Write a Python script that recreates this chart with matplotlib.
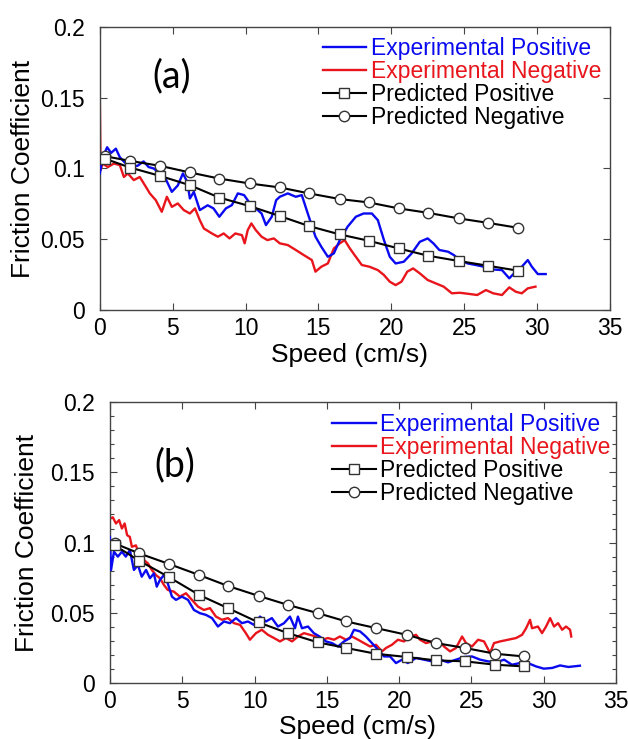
import matplotlib
matplotlib.use("Agg")
from matplotlib import pyplot as plt
from matplotlib.ticker import MultipleLocator

plt.rcParams['font.family'] = ['Liberation Sans', 'DejaVu Sans']

# ---- panel (a) ----
a_exp_pos_x = [0, 0.2, 0.5, 0.77, 1.1, 1.37, 1.78, 2.2, 2.6, 3.0, 3.35, 3.7, 4.1, 4.5, 4.94, 5.35,
               5.7, 6.0, 6.18, 6.45, 6.86, 7.4, 7.8, 8.2, 8.65, 9.06, 9.47, 9.9, 10.3, 10.7, 11.1,
               11.4, 11.8, 12.1, 12.35, 12.9, 13.45, 13.86, 14.27, 14.8, 15.2, 15.65, 16.06, 16.47,
               17.0, 17.57, 18.1, 18.67, 19.08, 19.5, 19.9, 20.3, 20.86, 21.4, 21.96, 22.5, 22.9,
               23.3, 23.9, 24.3, 24.7, 25.25, 25.8, 26.35, 26.9, 27.6, 28.1, 28.55, 28.96, 29.37,
               29.65, 30.06, 30.6]
a_exp_pos_y = [0.0965, 0.108, 0.115, 0.111, 0.114, 0.108, 0.1035, 0.101, 0.102, 0.105, 0.101, 0.100,
               0.0965, 0.093, 0.0835, 0.088, 0.0965, 0.0905, 0.0788, 0.0835, 0.0706, 0.074, 0.0718,
               0.0659, 0.0718, 0.0741, 0.0824, 0.0812, 0.0753, 0.0718, 0.0682, 0.060, 0.0659, 0.0776,
               0.080, 0.0824, 0.080, 0.0812, 0.0682, 0.0518, 0.0447, 0.0376, 0.040, 0.0494, 0.0588,
               0.0659, 0.0682, 0.0682, 0.0635, 0.0494, 0.0376, 0.0329, 0.0341, 0.040, 0.0482, 0.0506,
               0.047, 0.0424, 0.0412, 0.0388, 0.0353, 0.0329, 0.0318, 0.0306, 0.0287, 0.0282, 0.0224,
               0.0271, 0.0306, 0.0353, 0.0306, 0.0254, 0.0254]

a_exp_neg_x = [0, 0.05, 0.2, 0.55, 0.96, 1.37, 1.65, 1.92, 2.33, 2.74, 3.16, 3.43, 3.84, 4.25, 4.6,
               4.94, 5.35, 5.76, 6.18, 6.53, 6.86, 7.14, 7.69, 8.1, 8.5, 8.9, 9.3, 9.75, 9.94, 10.15,
               10.4, 10.7, 11.1, 11.5, 11.94, 12.35, 12.9, 13.45, 14.0, 14.55, 14.8, 15.2, 15.65,
               16.06, 16.47, 16.8, 17.16, 17.57, 17.98, 18.5, 19.08, 19.5, 19.9, 20.3, 20.7, 21.1,
               21.5, 21.96, 22.5, 23.06, 23.6, 24.16, 24.7, 25.4, 25.9, 26.5, 27.0, 27.6, 28.1,
               28.55, 28.96, 29.37, 29.9]
a_exp_neg_y = [0.148, 0.099, 0.1035, 0.101, 0.1035, 0.1024, 0.094, 0.0965, 0.0918, 0.094, 0.087,
               0.0824, 0.0776, 0.0694, 0.080, 0.0729, 0.0753, 0.0706, 0.0682, 0.0718, 0.0635, 0.0576,
               0.0541, 0.0518, 0.0541, 0.0506, 0.0541, 0.0529, 0.0471, 0.0565, 0.0612, 0.0565, 0.0518,
               0.0494, 0.0506, 0.0471, 0.0459, 0.0424, 0.0388, 0.0353, 0.0271, 0.0306, 0.0329, 0.0435,
               0.0471, 0.0494, 0.0435, 0.0376, 0.0318, 0.0306, 0.0282, 0.0247, 0.020, 0.0176, 0.020,
               0.0271, 0.0294, 0.0259, 0.0212, 0.0188, 0.0165, 0.0118, 0.0122, 0.0113, 0.0106, 0.0141,
               0.0118, 0.0106, 0.016, 0.0129, 0.0118, 0.0153, 0.0165]

a_pred_x = [0.33, 2.06, 4.12, 6.18, 8.18, 10.29, 12.35, 14.36, 16.47, 18.47, 20.51, 22.51, 24.65,
            26.63, 28.69]
a_pred_pos_y = [0.107, 0.1007, 0.0948, 0.0882, 0.0795, 0.0734, 0.0664, 0.0593, 0.0534, 0.0489,
                0.0435, 0.0384, 0.0346, 0.0313, 0.0278]
a_pred_neg_y = [0.1087, 0.1054, 0.1019, 0.0972, 0.0929, 0.0894, 0.0866, 0.0824, 0.0784, 0.0760,
                0.0718, 0.0687, 0.0647, 0.0616, 0.0581]

# ---- panel (b) ----
b_exp_pos_x = [0, 0.08, 0.28, 0.55, 0.83, 1.1, 1.38, 1.66, 1.94, 2.2, 2.5, 2.77, 3.04, 3.24, 3.46,
               3.74, 4.0, 4.29, 4.57, 4.98, 5.4, 5.81, 6.23, 6.64, 7.06, 7.47, 7.89, 8.3, 8.72, 9.13,
               9.55, 9.96, 10.38, 10.79, 11.2, 11.62, 12.04, 12.45, 12.8, 13.0, 13.28, 13.7, 14.1,
               14.5, 14.94, 15.36, 15.77, 16.19, 16.6, 16.88, 17.3, 17.7, 18.12, 18.54, 18.95, 19.37,
               19.78, 20.2, 20.6, 21.17, 21.72, 22.27, 22.83, 23.38, 23.93, 24.49, 25.04, 25.6, 26.15,
               26.7, 27.26, 27.8, 28.36, 28.9, 29.47, 30.0, 30.58, 31.13, 31.7, 32.5]
b_exp_pos_y = [0.104, 0.0805, 0.0935, 0.090, 0.0935, 0.090, 0.0947, 0.0805, 0.084, 0.0757, 0.0805,
               0.0746, 0.078, 0.0686, 0.0734, 0.0769, 0.071, 0.0615, 0.0592, 0.0615, 0.0592, 0.052,
               0.0497, 0.0485, 0.0462, 0.0402, 0.0438, 0.0426, 0.0462, 0.0426, 0.0438, 0.0414, 0.0473,
               0.0438, 0.0462, 0.0402, 0.0426, 0.0473, 0.039, 0.0473, 0.039, 0.0402, 0.0355, 0.0331,
               0.0296, 0.0284, 0.026, 0.0296, 0.032, 0.0379, 0.0367, 0.0331, 0.0284, 0.0237, 0.0189,
               0.0189, 0.0142, 0.0166, 0.0142, 0.0178, 0.0166, 0.0154, 0.0166, 0.0147, 0.0166, 0.0185,
               0.0189, 0.0166, 0.0154, 0.0147, 0.0166, 0.013, 0.0142, 0.0142, 0.0118, 0.0102, 0.0107,
               0.0125, 0.0114, 0.0123]

b_exp_neg_x = [0, 0.2, 0.42, 0.64, 0.83, 1.02, 1.19, 1.38, 1.52, 1.8, 2.07, 2.35, 2.63, 2.9, 3.18,
               3.46, 3.74, 4.0, 4.43, 4.84, 5.26, 5.67, 6.09, 6.5, 6.92, 7.33, 7.75, 8.16, 8.58, 9.0,
               9.4, 9.68, 10.1, 10.5, 10.93, 11.35, 11.76, 12.17, 12.6, 13.0, 13.42, 13.83, 14.25,
               14.67, 15.08, 15.5, 15.9, 16.33, 16.74, 17.16, 17.57, 17.99, 18.4, 18.82, 19.09, 19.5,
               19.92, 20.34, 20.75, 21.17, 21.44, 21.86, 22.27, 22.7, 23.1, 23.52, 23.93, 24.35,
               24.63, 25.04, 25.46, 25.87, 26.29, 26.56, 26.98, 27.53, 28.08, 28.5, 28.78, 29.05,
               29.19, 29.6, 29.88, 30.16, 30.44, 30.71, 30.99, 31.27, 31.54, 31.82, 31.9]
b_exp_neg_y = [0.117, 0.118, 0.1136, 0.116, 0.110, 0.1136, 0.1053, 0.104, 0.097, 0.098, 0.090,
               0.0876, 0.0852, 0.0805, 0.0769, 0.0746, 0.0698, 0.0663, 0.065, 0.0615, 0.0639, 0.0592,
               0.0544, 0.052, 0.0533, 0.0473, 0.045, 0.0462, 0.0426, 0.0414, 0.0355, 0.0308, 0.0355,
               0.0379, 0.0343, 0.032, 0.0296, 0.032, 0.0296, 0.0331, 0.0355, 0.0343, 0.0331, 0.0308,
               0.032, 0.0308, 0.0331, 0.0308, 0.0331, 0.0308, 0.0284, 0.026, 0.0272, 0.0225, 0.0249,
               0.0272, 0.0308, 0.0296, 0.0331, 0.0343, 0.0308, 0.0284, 0.0296, 0.0308, 0.026, 0.0225,
               0.0249, 0.0331, 0.0284, 0.026, 0.0308, 0.0296, 0.0213, 0.0284, 0.0296, 0.0308, 0.032,
               0.0343, 0.039, 0.045, 0.039, 0.0402, 0.0355, 0.0402, 0.0462, 0.0402, 0.0426, 0.0379,
               0.0402, 0.0379, 0.0331]

b_pred_x = [0.33, 2.02, 4.1, 6.17, 8.16, 10.29, 12.31, 14.39, 16.35, 18.4, 20.53, 22.55, 24.57,
            26.65, 28.64]
b_pred_pos_y = [0.098, 0.0871, 0.0753, 0.0627, 0.0533, 0.0431, 0.0355, 0.0289, 0.0249, 0.0208,
                0.0185, 0.0161, 0.0154, 0.013, 0.0118]
b_pred_neg_y = [0.0994, 0.0923, 0.0847, 0.0769, 0.0691, 0.062, 0.0556, 0.0497, 0.0438, 0.0391,
                0.0343, 0.0284, 0.0249, 0.0208, 0.0189]

labels = ["Experimental Positive", "Experimental Negative", "Predicted Positive", "Predicted Negative"]

fig = plt.figure(figsize=(6.28, 7.39), dpi=100)

panels = [
    ("(a)", [0.159, 0.5805, 0.812, 0.383], a_exp_pos_x, a_exp_pos_y, a_exp_neg_x, a_exp_neg_y,
     a_pred_x, a_pred_pos_y, a_pred_neg_y, (4.95, 0.165), -0.128, -0.117, 0.437, 0.963, False),
    ("(b)", [0.175, 0.0758, 0.806, 0.380], b_exp_pos_x, b_exp_pos_y, b_exp_neg_x, b_exp_neg_y,
     b_pred_x, b_pred_pos_y, b_pred_neg_y, (4.5, 0.155), -0.141, -0.114, 0.439, 0.96, True),
]

for (tag, rect, epx, epy, enx, eny, px, ppy, pny, tagpos, ylx, xly, legx, legy, minor) in panels:
    ax = fig.add_axes(rect)
    ax.plot(epx, epy, color='#0a0af0', linewidth=1.7, label=labels[0], zorder=3)
    ax.plot(enx, eny, color='#e8161c', linewidth=1.7, label=labels[1], zorder=2)
    ax.plot(px, ppy, color='black', linewidth=1.5, marker='s', markersize=7.5,
            markerfacecolor='white', markeredgecolor='#333333', markeredgewidth=1.0,
            label=labels[2], zorder=5)
    ax.plot(px, pny, color='black', linewidth=1.5, marker='o', markersize=7.5,
            markerfacecolor='white', markeredgecolor='#333333', markeredgewidth=1.0,
            label=labels[3], zorder=4)
    ax.set_xlim(0, 35)
    ax.set_ylim(0, 0.2)
    ax.set_xticks([0, 5, 10, 15, 20, 25, 30, 35])
    ax.set_yticks([0, 0.05, 0.1, 0.15, 0.2])
    ax.set_yticklabels(['0', '0.05', '0.1', '0.15', '0.2'])
    if minor:
        ax.yaxis.set_minor_locator(MultipleLocator(0.01))
    ax.tick_params(direction='in', which='both', top=True, right=True, labelsize=16.5,
                   length=5, width=0.8, color='#444444')
    ax.tick_params(axis='y', pad=11)
    ax.tick_params(axis='x', pad=5)
    ax.tick_params(which='minor', length=3)
    for s in ax.spines.values():
        s.set_color('#444444')
        s.set_linewidth(1.0)
    ax.set_ylabel("Friction Coefficient", fontsize=19)
    ax.set_xlabel("Speed (cm/s)", fontsize=19)
    ax.yaxis.set_label_coords(ylx, 0.5)
    ax.xaxis.set_label_coords(0.49, xly)
    ax.text(tagpos[0], tagpos[1], tag, fontsize=27, family=['Lato', 'DejaVu Sans'],
            ha='center', va='center')
    ax.legend(loc='upper left', bbox_to_anchor=(legx, legy), frameon=False, fontsize=16.5,
              labelcolor='linecolor', handlelength=1.9, handletextpad=0.2, borderpad=0,
              borderaxespad=0, labelspacing=0.0)

fig.savefig("out.png", dpi=100)
